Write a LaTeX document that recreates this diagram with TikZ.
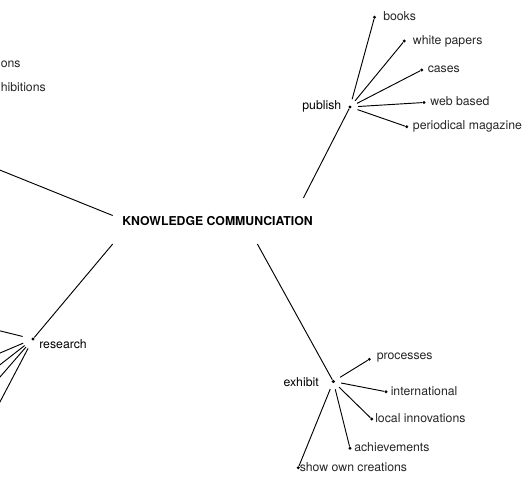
\documentclass[tikz,border=0pt]{standalone}
\usepackage{fontspec}
\setmainfont{TeX Gyre Heros}
\usepackage{xcolor}
\usetikzlibrary{arrows,shapes,calc,positioning}

\begin{document}
\begin{tikzpicture}[x=0.75pt, y=-0.75pt,
		hub/.style={circle, fill=black, inner sep=0pt, minimum size=2.6pt},
		leaf/.style={circle, fill=black, inner sep=0pt, minimum size=2.4pt},
		leaftext/.style={anchor=base west, inner sep=0pt, text=black!85},
		branch/.style={line width=0.7pt, shorten <=4.5pt}]
		\tikzstyle{every node}=[font=\fontsize{9.2}{11}\selectfont]
		\useasboundingbox (0,0) rectangle (522,487);
		\clip (0,0) rectangle (522,487);
		% centre
		\node [font=\fontsize{9.2}{11}\selectfont\bfseries, inner xsep=7pt, inner ysep=13.6pt] (kc) at (217.5,221) {KNOWLEDGE COMMUNCIATION};
		% hubs
		\node [hub] (pub) at (350,107) {};
		\node [hub] (exh) at (333.3,381.5) {};
		\node [hub] (res) at (33,339) {};
		\coordinate (off) at (-40,154);
		\node [anchor=base east, inner sep=0pt] (pubT) at (341.5,109.5) {publish};
		\node [anchor=base east, inner sep=0pt] (exhT) at (319,386.5) {exhibit};
		\node [anchor=base west, inner sep=0pt] (resT) at (39,348) {research};
		\draw [line width=0.7pt] (off) -- (kc.177);
		\draw [line width=0.7pt] (res) -- (kc.south west);
		\draw [line width=0.7pt] (exh) -- (kc.-30);
		\draw [line width=0.7pt] (pub) -- (kc.15);
		% publish
		\node [leaf] (books) at (374.5,17.3) {};
		\node [leaf] (whitepapers) at (404.3,41) {};
		\node [leaf] (cases) at (421.7,70) {};
		\node [leaf] (webbased) at (424,102.5) {};
		\node [leaf] (magazine) at (406.7,126.7) {};
		\node [leaftext] (booksT) at (383,20.5) {books};
		\node [leaftext] (whitepapersT) at (412.7,44) {white papers};
		\node [leaftext] (casesT) at (427.5,72) {cases};
		\node [leaftext] (webbasedT) at (430,105) {web based};
		\node [leaftext] (magazineT) at (412.7,129) {periodical magazine};
		\draw [branch] (pub) -- (books);
		\draw [branch] (pub) -- (whitepapers);
		\draw [branch] (pub) -- (cases);
		\draw [branch] (pub) -- (webbased);
		\draw [branch] (pub) -- (magazine);
		% exhibit
		\node [leaf] (processes) at (369.3,359.3) {};
		\node [leaf] (international) at (386,391.7) {};
		\node [leaf] (localinno) at (371.7,419) {};
		\node [leaf] (achieve) at (350,448.3) {};
		\node [leaf] (showown) at (298.3,467.7) {};
		\node [leaftext] (processesT) at (376.5,359.5) {processes};
		\node [leaftext] (internationalT) at (390.5,395) {international};
		\node [leaftext] (localinnoT) at (375,422) {local innovations};
		\node [leaftext] (achieveT) at (354,451.5) {achievements};
		\node [leaftext] (showownT) at (299.5,471) {show own creations};
		\draw [branch] (exh) -- (processes);
		\draw [branch] (exh) -- (international);
		\draw [branch] (exh) -- (localinno);
		\draw [branch] (exh) -- (achieve);
		\draw [branch] (exh) -- (showown);
		% research
		\coordinate (r1) at (-40,321);
		\coordinate (r2) at (-40,370);
		\coordinate (r3) at (-40,396);
		\coordinate (r4) at (-40,423);
		\coordinate (r5) at (-40,478);
		\draw [branch, shorten <=6.5pt] (res) -- (r1);
		\draw [branch, shorten <=6.5pt] (res) -- (r2);
		\draw [branch, shorten <=6.5pt] (res) -- (r3);
		\draw [branch, shorten <=6.5pt] (res) -- (r4);
		\draw [branch, shorten <=6.5pt] (res) -- (r5);
		% left edge
		\node [leaftext] (onsT) at (0.5,67.5) {ons};
		\node [leaftext] (hibitionsT) at (0.5,91.5) {hibitions};
	\end{tikzpicture}
\end{document}
